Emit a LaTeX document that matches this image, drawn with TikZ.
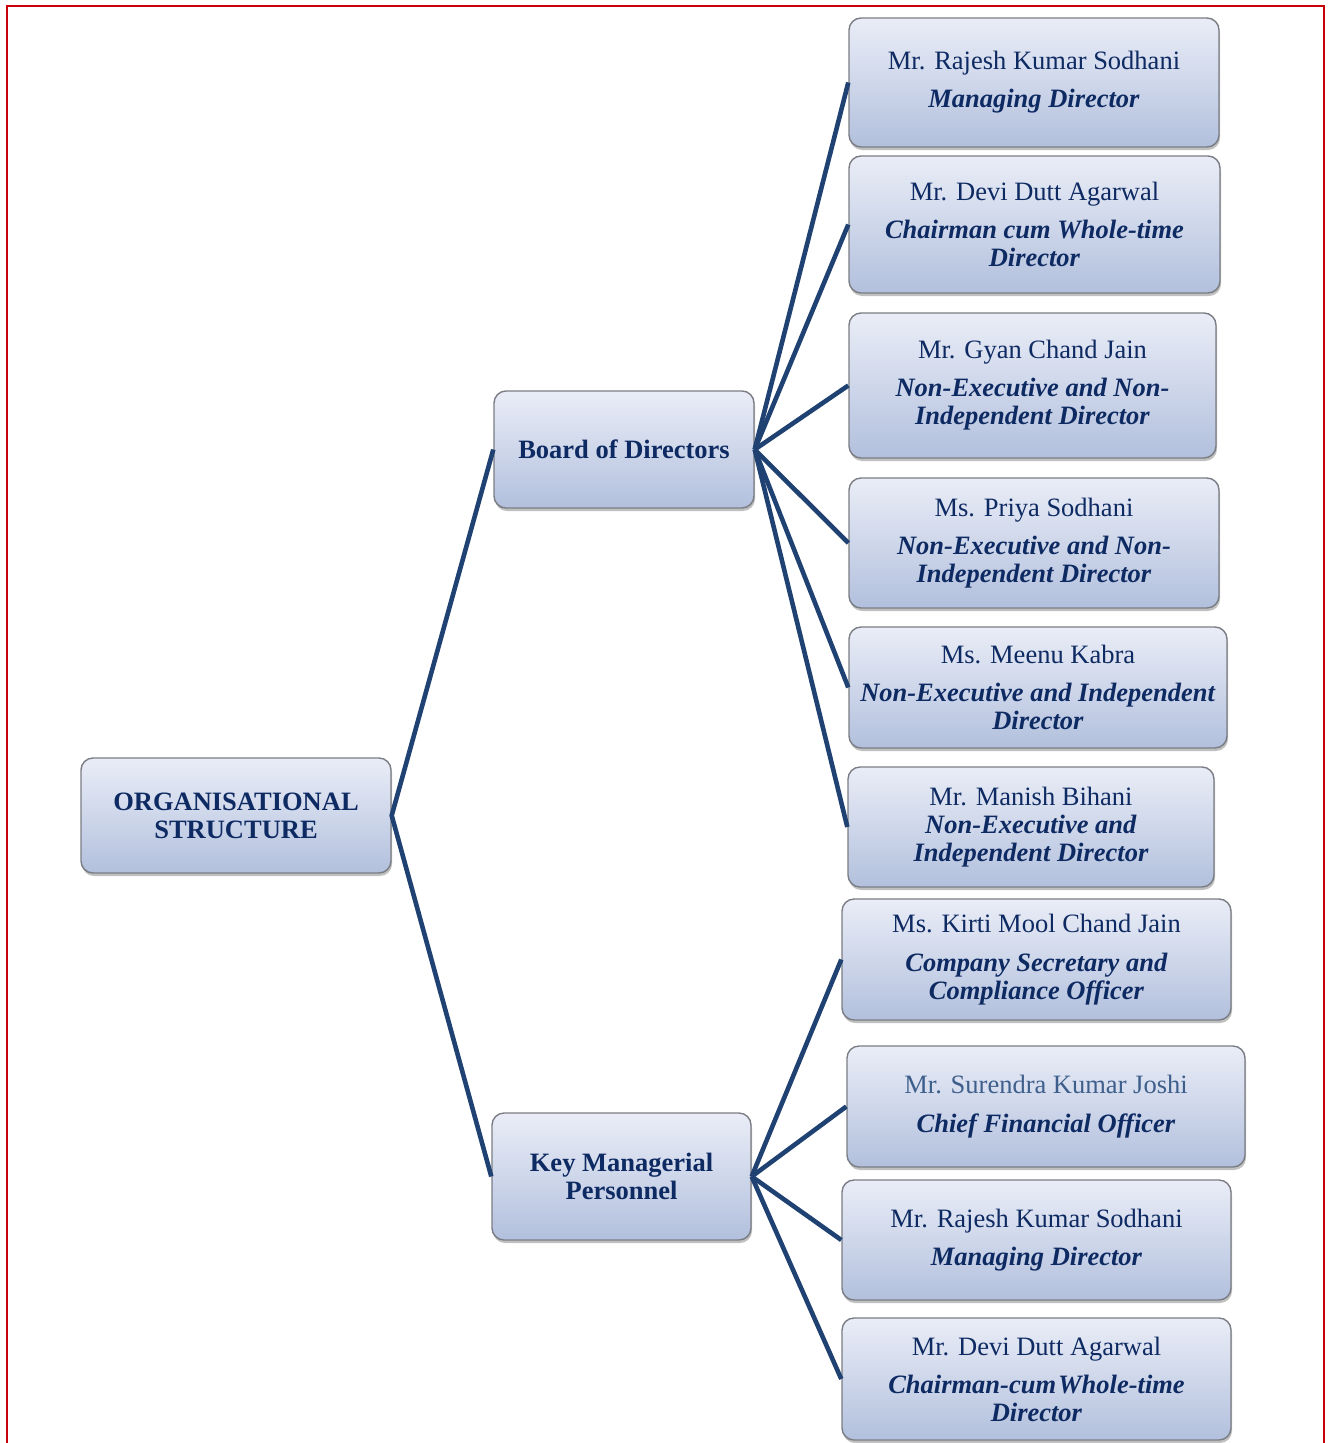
\documentclass[tikz,border=0pt]{standalone}
\usepackage{fontspec}
\setmainfont{Liberation Serif}
\usetikzlibrary{shadows}
\definecolor{navy}{HTML}{0E2A62}
\definecolor{lightnavy}{HTML}{3E5F8C}
\definecolor{linecol}{HTML}{1F4272}
\definecolor{frame}{HTML}{C8000A}
\definecolor{boxtop}{HTML}{EAEDF7}
\definecolor{boxbot}{HTML}{B2C0DD}
\definecolor{boxedge}{HTML}{7A7D84}
\tikzset{
  card/.style={draw=boxedge, line width=1.4pt, rounded corners=12pt,
    top color=boxtop, bottom color=boxbot, inner sep=0pt, align=center,
    text=navy, font=\fontsize{26.5}{28}\selectfont,
    drop shadow={shadow xshift=1pt, shadow yshift=-3pt, opacity=0.35, fill=black!70}},
  conn/.style={draw=linecol, line width=4.6pt, line join=miter},
  frameline/.style={draw=frame, line width=2.6pt}
}
\newcommand{\rolet}[1]{\textbf{\textit{#1}}}
\begin{document}
\begin{tikzpicture}[x=1pt,y=-1pt]
\useasboundingbox (0,0) rectangle (1331,1443);
\fill[white] (0,0) rectangle (1331,1443);
\draw[frameline] (7,1443) -- (7,6) -- (1324,6) -- (1324,1443);

% level 0
\node[card, minimum width=310pt, minimum height=115pt] (org) at (236,815.5)
  {\textbf{ORGANISATIONAL}\\\textbf{STRUCTURE}};
% level 1
\node[card, minimum width=260pt, minimum height=117pt] (bod) at (624,449.5)
  {\textbf{Board of Directors}};
\node[card, minimum width=259pt, minimum height=127pt] (kmp) at (621.5,1176.5)
  {\textbf{Key Managerial}\\\textbf{Personnel}};

% board members
\node[card, minimum width=370pt, minimum height=129pt] (b1) at (1034,82.5)
  {Mr. Rajesh Kumar Sodhani\\[10pt]\rolet{Managing Director}};
\node[card, minimum width=371pt, minimum height=137pt] (b2) at (1034.5,224.5)
  {Mr. Devi Dutt Agarwal\\[10.5pt]\rolet{Chairman cum Whole-time}\\\rolet{Director}};
\node[card, minimum width=367pt, minimum height=145pt] (b3) at (1032.5,385.5)
  {Mr. Gyan Chand Jain\\[10pt]\rolet{Non-Executive and Non-}\\\rolet{Independent Director}};
\node[card, minimum width=370pt, minimum height=130pt] (b4) at (1034,543)
  {Ms. Priya Sodhani\\[10.5pt]\rolet{Non-Executive and Non-}\\\rolet{Independent Director}};
\node[card, minimum width=378pt, minimum height=121pt] (b5) at (1038,687.5)
  {Ms. Meenu Kabra\\[10pt]\rolet{Non-Executive and Independent}\\\rolet{Director}};
\node[card, minimum width=366pt, minimum height=120pt] (b6) at (1031,827)
  {Mr. Manish Bihani\\\rolet{Non-Executive and}\\\rolet{Independent Director}};

% KMP members
\node[card, minimum width=389pt, minimum height=121pt] (k1) at (1036.5,959.5)
  {Ms. Kirti Mool Chand Jain\\[11pt]\rolet{Company Secretary and}\\\rolet{Compliance Officer}};
\node[card, minimum width=398pt, minimum height=121pt] (k2) at (1046,1106.5)
  {\textcolor{lightnavy}{Mr. Surendra Kumar Joshi}\\[11pt]\rolet{Chief Financial Officer}};
\node[card, minimum width=389pt, minimum height=120pt] (k3) at (1036.5,1240)
  {Mr. Rajesh Kumar Sodhani\\[10pt]\rolet{Managing Director}};
\node[card, minimum width=389pt, minimum height=122pt] (k4) at (1036.5,1379)
  {Mr. Devi Dutt Agarwal\\[10pt]\rolet{Chairman-cum\kern2pt Whole-time}\\\rolet{Director}};

% connectors
\draw[conn] (bod.west) -- (org.east) -- (kmp.west);
\foreach \n in {b1,b2,b3,b4,b5,b6}{\draw[conn] (bod.east) -- (\n.west);}
\foreach \n in {k1,k2,k3,k4}{\draw[conn] (kmp.east) -- (\n.west);}
\end{tikzpicture}
\end{document}
